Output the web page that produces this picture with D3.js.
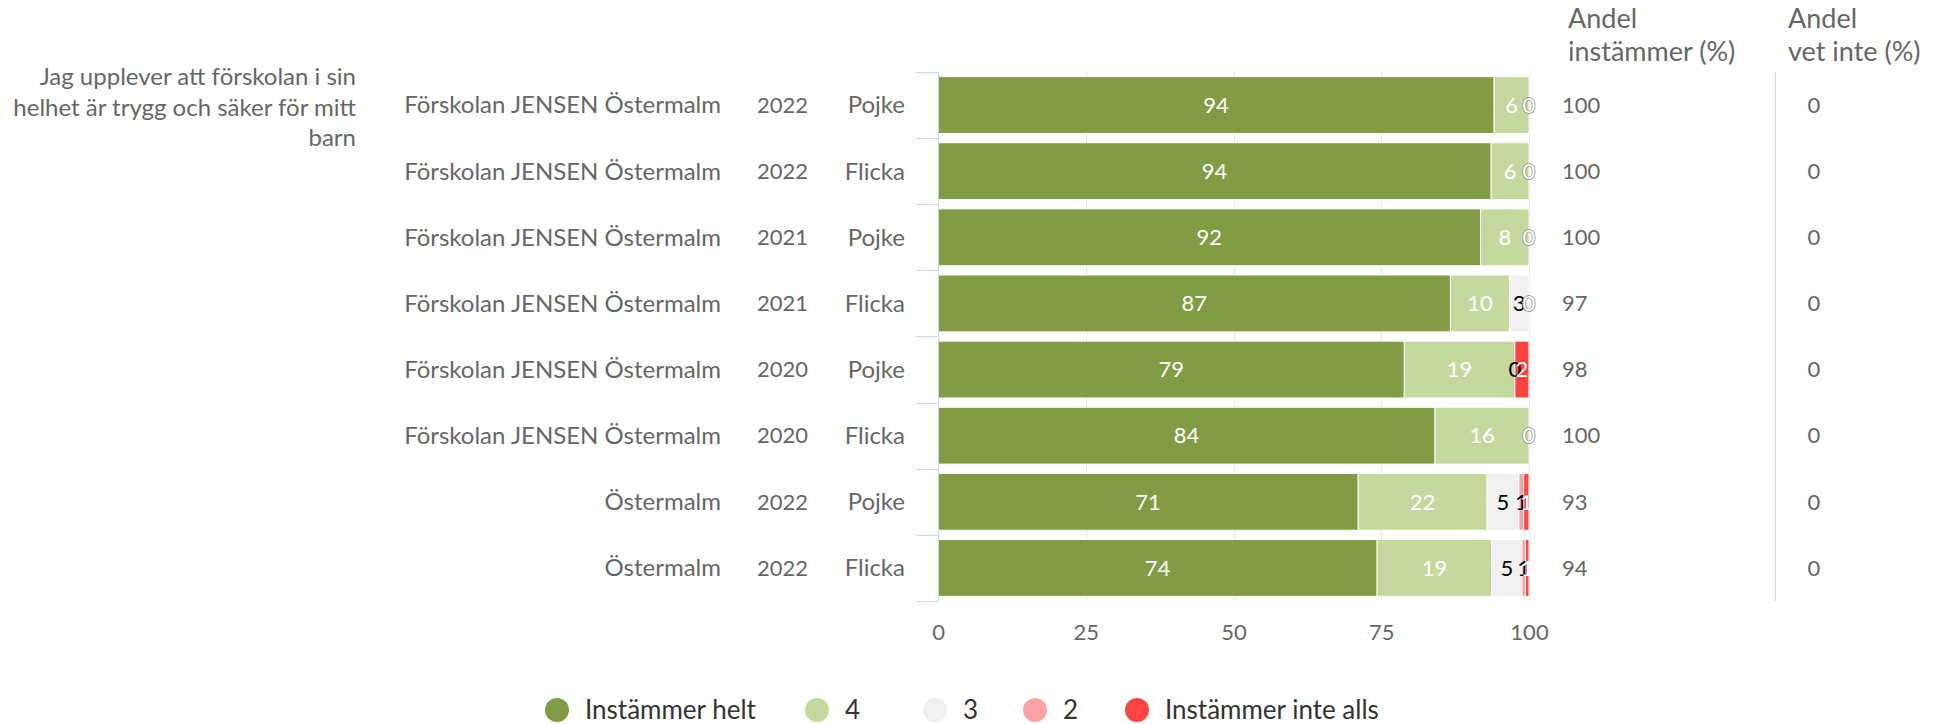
<!DOCTYPE html>
<html>
<head>
<meta charset="utf-8">
<script src="https://cdn.jsdelivr.net/npm/d3@7"></script>
<style>
  body { margin: 0; background: #fff; }
  text { font-family: Lato, "Open Sans", sans-serif; }
</style>
</head>
<body>
<svg id="svg" width="1936" height="724"></svg>
<script>
// data
var question = ["Jag upplever att förskolan i sin", "helhet är trygg och säker för mitt", "barn"];
var units = ["Förskolan JENSEN Östermalm", "Förskolan JENSEN Östermalm", "Förskolan JENSEN Östermalm", "Förskolan JENSEN Östermalm",
  "Förskolan JENSEN Östermalm", "Förskolan JENSEN Östermalm", "Östermalm", "Östermalm"];
var years = ["2022", "2022", "2021", "2021", "2020", "2020", "2022", "2022"];
var genders = ["Pojke", "Flicka", "Pojke", "Flicka", "Pojke", "Flicka", "Pojke", "Flicka"];

var seriesNames = ["Instämmer helt", "4", "3", "2", "Instämmer inte alls"];
var seriesColors = ["#829c45", "#c5d89e", "#f0f0f0", "#f9a3a3", "#ff4444"];
// null = no value for that answer
var helt = [94.1, 93.6, 91.8, 86.7, 78.9, 84.1, 71.1, 74.3];
var fyra = [5.9, 6.4, 8.2, 10.0, 18.7, 15.9, 21.8, 19.4];
var tre = [null, null, null, 3.3, 0, null, 5.4, 5.1];
var tva = [null, null, null, null, null, null, 0.8, 0.6];
var inteAlls = [0, 0, 0, 0, 2.4, 0, 0.9, 0.6];

var andelInstammer = [100, 100, 100, 97, 98, 100, 93, 94];
var andelVetInte = [0, 0, 0, 0, 0, 0, 0, 0];
var xTicks = [0, 25, 50, 75, 100];

var seriesValues = [helt, fyra, tre, tva, inteAlls];
var labelDark = [false, false, true, true, false]; // black text on light segments

var svg = d3.select("#svg");
var numSize = 22;   // digits
var textSize = 24;  // words

var x = d3.scaleLinear().domain([0, 100]).range([938, 1529]);
var rows = d3.range(units.length);
var y = d3.scaleBand().domain(rows).range([72, 601]).paddingInner(0.14).paddingOuter(0.07);

// grid lines (only visible in the gaps)
svg.append("g").selectAll("line").data(xTicks).enter().append("line")
  .attr("x1", function(d){ return Math.round(x(d)) + 0.5; })
  .attr("x2", function(d){ return Math.round(x(d)) + 0.5; })
  .attr("y1", 72).attr("y2", 601)
  .attr("stroke", "#e6e6e6").attr("stroke-width", 1);

// stacked segments
var stacks = rows.map(function(r){
  var acc = 0;
  return seriesValues.map(function(vals, s){
    var v = vals[r];
    var seg = {row: r, s: s, v: v, x0: acc, x1: acc + (v || 0)};
    acc += v || 0;
    return seg;
  });
});
var segs = [].concat.apply([], stacks);

svg.append("g").selectAll("rect").data(segs.filter(function(d){ return d.v > 0; })).enter().append("rect")
  .attr("x", function(d){ return x(d.x0); })
  .attr("y", function(d){ return y(d.row); })
  .attr("width", function(d){ return x(d.x1) - x(d.x0); })
  .attr("height", y.bandwidth())
  .attr("fill", function(d){ return seriesColors[d.s]; })
  .attr("stroke", "#fff").attr("stroke-width", 1);

// data labels
svg.append("g").selectAll("text").data(segs.filter(function(d){ return d.v !== null; })).enter().append("text")
  .attr("x", function(d){ return (x(d.x0) + x(d.x1)) / 2; })
  .attr("y", function(d){ return y(d.row) + y.bandwidth() / 2; })
  .attr("dy", "0.35em")
  .attr("text-anchor", "middle")
  .attr("font-size", numSize)
  .attr("fill", function(d){ return labelDark[d.s] ? "#000" : "#fff"; })
  .attr("stroke", function(d){ return d.v === 0 && !labelDark[d.s] ? "#888" : "none"; })
  .attr("stroke-width", 1.5)
  .attr("paint-order", "stroke")
  .text(function(d){ return Math.round(d.v); });

// category axis
var catAxis = svg.append("g");
catAxis.append("line").attr("x1", 938.5).attr("x2", 938.5).attr("y1", 72).attr("y2", 601)
  .attr("stroke", "#ccd6eb");
var bounds = rows.map(function(r){ return y(r) - y.step() * y.paddingInner() / 2; }).concat([601]);
bounds[0] = 72;
catAxis.selectAll(".tick").data(bounds).enter().append("line")
  .attr("x1", 916).attr("x2", 938)
  .attr("y1", function(d){ return Math.round(d) + 0.5; })
  .attr("y2", function(d){ return Math.round(d) + 0.5; })
  .attr("stroke", "#ccd6eb");

function colLabels(arr, xr, size){
  catAxis.append("g").selectAll("text").data(arr).enter().append("text")
    .attr("x", xr)
    .attr("y", function(d, i){ return y(i) + y.bandwidth() / 2; })
    .attr("dy", "0.35em")
    .attr("text-anchor", "end")
    .attr("font-size", size)
    .attr("fill", "#666")
    .text(function(d){ return d; });
}
colLabels(units, 721, textSize);
colLabels(years, 808, numSize);
colLabels(genders, 905, textSize);

catAxis.append("g").selectAll("text").data(question).enter().append("text")
  .attr("x", 356)
  .attr("y", function(d, i){ return 77 + i * 30.5; })
  .attr("dy", "0.35em")
  .attr("text-anchor", "end")
  .attr("font-size", textSize)
  .attr("fill", "#666")
  .text(function(d){ return d; });

// value axis
var xAxis = svg.append("g").attr("transform", "translate(0,601)")
  .call(d3.axisBottom(x).tickValues(xTicks).tickSize(0).tickPadding(23));
xAxis.select(".domain").remove();
xAxis.selectAll("text").attr("font-size", numSize).attr("fill", "#666").style("font-family", "Lato, sans-serif");

// right side columns
var side = svg.append("g");
side.append("line").attr("x1", 1775.5).attr("x2", 1775.5).attr("y1", 72).attr("y2", 601).attr("stroke", "#ccd6eb");
[["Andel", "instämmer (%)", 1568], ["Andel", "vet inte (%)", 1788]].forEach(function(h){
  side.append("text").attr("x", h[2]).attr("y", 28).attr("font-size", 27).attr("fill", "#666").text(h[0]);
  side.append("text").attr("x", h[2]).attr("y", 61).attr("font-size", 27).attr("fill", "#666").text(h[1]);
});
side.append("g").selectAll("text").data(andelInstammer).enter().append("text")
  .attr("x", 1562)
  .attr("y", function(d, i){ return y(i) + y.bandwidth() / 2; })
  .attr("dy", "0.35em").attr("font-size", numSize).attr("fill", "#666")
  .text(function(d){ return d; });
side.append("g").selectAll("text").data(andelVetInte).enter().append("text")
  .attr("x", 1814).attr("text-anchor", "middle")
  .attr("y", function(d, i){ return y(i) + y.bandwidth() / 2; })
  .attr("dy", "0.35em").attr("font-size", numSize).attr("fill", "#666")
  .text(function(d){ return d; });

// legend
var legendX = [557, 817, 935, 1035, 1137];
var legend = svg.append("g").selectAll("g").data(seriesNames).enter().append("g")
  .attr("transform", function(d, i){ return "translate(" + legendX[i] + ",710)"; });
legend.append("circle").attr("r", 12).attr("fill", function(d, i){ return seriesColors[i]; });
legend.append("text").attr("x", 28).attr("dy", "0.35em").attr("font-size", 26).attr("fill", "#333")
  .text(function(d){ return d; });
</script>
</body>
</html>
